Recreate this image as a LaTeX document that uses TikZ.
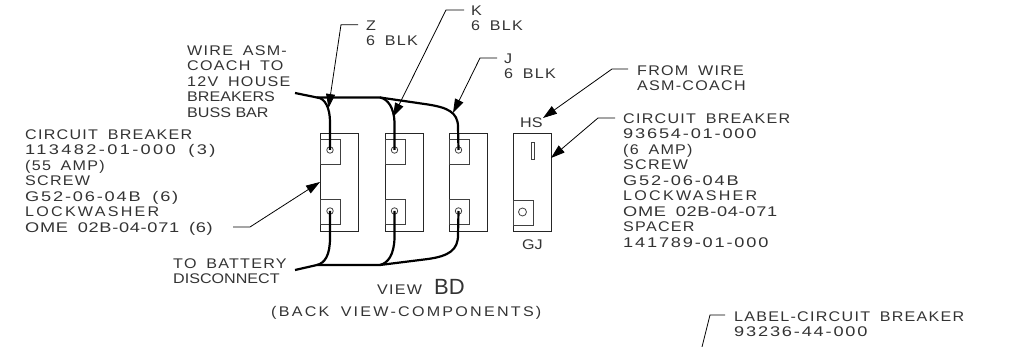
\documentclass[tikz,border=0pt]{standalone}
\usepackage{fontspec}
\setmainfont[FakeStretch=1.15,LetterSpace=9,WordSpace=1.7]{Liberation Sans}
\newfontfamily\nmfam[FakeStretch=1.3,LetterSpace=13,WordSpace=1.7]{Liberation Sans}
\newfontfamily\nmwfam[FakeStretch=1.3,LetterSpace=17,WordSpace=1.7]{Liberation Sans}
\newfontfamily\nmnfam[FakeStretch=1.3,LetterSpace=5,WordSpace=1.7]{Liberation Sans}
\newfontfamily\tightfam[FakeStretch=1.15]{Liberation Sans}
\newfontfamily\widefam[FakeStretch=1.15,LetterSpace=16,WordSpace=1.7]{Liberation Sans}
\newfontfamily\bdfam{Liberation Sans}
\usetikzlibrary{arrows.meta}
\newcommand\lblfont{\fontsize{14pt}{15.5pt}\selectfont}
\newcommand\st{\rule{0pt}{11pt}}
\newcommand\nm[1]{{\nmfam #1}}
\newcommand\nmw[1]{{\nmwfam #1}}
\newcommand\nmn[1]{{\nmnfam #1}}
\newcommand\tg[1]{{\tightfam #1}}
\newcommand\wf[1]{{\widefam #1}}
\tikzset{
 txt/.style={anchor=north west,inner sep=0pt,align=left,font=\lblfont,text=black!80},
 body/.style={draw=black!85,line width=0.9pt,inner sep=0pt,anchor=north west},
 term/.style={draw=black!75,line width=0.9pt,inner sep=0pt,anchor=north west,minimum width=20pt,minimum height=25pt},
 stud/.style={draw=black!75,line width=0.8pt,circle,inner sep=0pt,minimum size=6.5pt},
 wire/.style={draw=black,line width=2.2pt},
 lead/.style={draw=black,line width=0.8pt,-{Triangle[length=14pt,width=9pt]}},
 leadplain/.style={draw=black,line width=0.8pt},
}
\begin{document}
\begin{tikzpicture}[x=1pt,y=-1pt]
\useasboundingbox (0,0) rectangle (1011,347);
% large breakers
\foreach \n/\x in {a/320,b/384.5,c/448.5}{
  \node[body,minimum width=38pt,minimum height=98pt] (brk\n) at (\x,133) {};
  \node[term] (top\n) at (\x,139) {};
  \node[term] (bot\n) at (\x,199) {};
  \node[stud] (ts\n) at (\x+10,150) {};
  \node[stud] (bs\n) at (\x+10,211) {};
}
% small breaker
\node[body,minimum width=38.5pt,minimum height=98pt] (brkd) at (512.5,133) {};
\node[term,minimum height=25pt] (botd) at (512.5,200) {};
\node[stud,minimum size=8pt] (bsd) at (522.5,212) {};
\node[term,minimum width=3.5pt,minimum height=17pt] (slot) at (530.5,142) {};
% wires
\coordinate (wt0) at (295,93);
\coordinate (wt1) at (317,97.5);
\coordinate (wt2) at (380,97.5);
\coordinate (wb0) at (295,270);
\coordinate (wb1) at (317,265);
\coordinate (wb2) at (380,265);
\draw[wire] (wt0) -- (wt1) -- (wt2) -- (428,104.5) .. controls (447,107.5) and (458,112) .. (458,127) -- (tsc.center);
\draw[wire] (wt1) .. controls (325,98) and (330,108) .. (330,122) -- (tsa.center);
\draw[wire] (wt2) .. controls (388,99) and (394,108) .. (394.5,122) -- (tsb.center);
\draw[wire] (wb0) -- (wb1) -- (wb2) -- (428,259) .. controls (449,256) and (458,250) .. (458,235) -- (bsc.center);
\draw[wire] (wb1) .. controls (325,263) and (330,255) .. (330,238) -- (bsa.center);
\draw[wire] (wb2) .. controls (388,263) and (394,255) .. (394.5,238) -- (bsb.center);
% leaders
\coordinate (zs) at (358,24.7); \coordinate (ze) at (341,24.7); \coordinate (zt) at (328.5,108);
\coordinate (ks) at (464,10); \coordinate (ke) at (446,10); \coordinate (kt) at (393,117);
\coordinate (js) at (497,58); \coordinate (je) at (480,58); \coordinate (jt) at (453,113);
\coordinate (fs) at (628,69); \coordinate (fe) at (612,69); \coordinate (ft) at (543,118);
\coordinate (cs) at (615,118); \coordinate (ce) at (598,118); \coordinate (ct) at (551,158);
\coordinate (as) at (233,227); \coordinate (ae) at (250,227); \coordinate (at) at (320,182);
\coordinate (ls) at (725,315); \coordinate (le) at (710,315); \coordinate (lt) at (702,347);
\draw[lead] (zs) -- (ze) -- (zt);
\draw[lead] (ks) -- (ke) -- (kt);
\draw[lead] (js) -- (je) -- (jt);
\draw[lead] (fs) -- (fe) -- (ft);
\draw[lead] (cs) -- (ce) -- (ct);
\draw[lead] (as) -- (ae) -- (at);
\draw[leadplain] (ls) -- (le) -- (lt);
% labels
\node[txt] (twire) at (187,44) {\st WIRE ASM-\\COACH TO\\12V HOUSE\\\tg{BREAKERS}\\\tg{BUSS BAR}};
\node[txt] (tcb1) at (25,128) {\st CIRCUIT BREAKER\\\nmw{113482-01-000 (3)}\\(55 AMP)\\SCREW\\\nm{G52-06-04B (6)}\\\wf{LOCKWASHER}\\\nmn{OME 02B-04-071 (6)}};
\node[txt] (tbat) at (173,257) {\st TO BATTERY\\\tg{DISCONNECT}};
\node[txt] (tz) at (366,19) {\st Z\\6 BLK};
\node[txt] (tk) at (471,4) {\st K\\6 BLK};
\node[txt] (tj) at (504,52) {\st J\\6 BLK};
\node[txt] (ths) at (520,116) {\st\tg{HS}};
\node[txt] (tgj) at (522,238) {\st\tg{GJ}};
\node[txt] (tfrom) at (637,64) {\st FROM WIRE\\ASM-COACH};
\node[txt] (tcb2) at (623,112) {\st CIRCUIT BREAKER\\\nm{93654-01-000}\\(6 AMP)\\SCREW\\\nm{G52-06-04B}\\\wf{LOCKWASHER}\\\nmn{OME 02B-04-071}\\SPACER\\\nm{141789-01-000}};
\node[txt] (tview) at (377,283) {\st VIEW};
\node[txt,font=\fontsize{22pt}{24pt}\selectfont\bdfam] (tbd) at (434,276) {\rule{0pt}{18pt}BD};
\node[txt] (tback) at (271,305) {\st\wf{(BACK VIEW-COMPONENTS)}};
\node[txt] (tlabel) at (734,310) {\st LABEL-CIRCUIT BREAKER\\\nm{93236-44-000}};
\end{tikzpicture}
\end{document}
